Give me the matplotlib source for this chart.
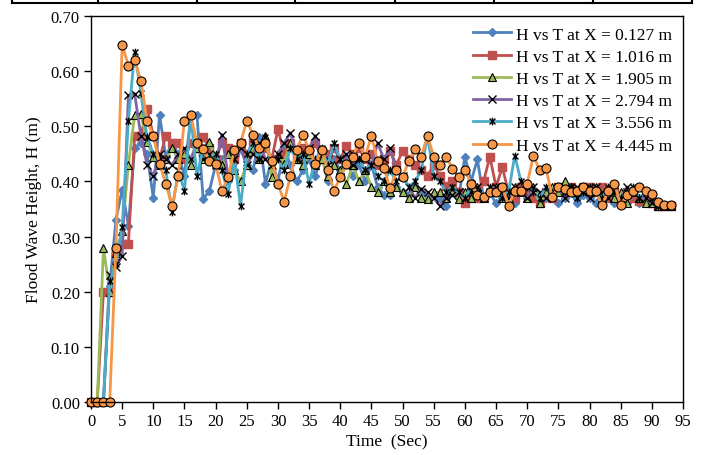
import numpy as np
import matplotlib
matplotlib.use('Agg')
import matplotlib.pyplot as plt
from matplotlib.path import Path
from matplotlib.lines import Line2D

plt.rcParams['font.family'] = ['Liberation Serif', 'DejaVu Serif']

# time (s) and flood wave height H (m) at each gauge
t = list(range(0, 94))

h_0127 = [0, 0, 0, 0.21, 0.33, 0.385, 0.32, 0.46, 0.47, 0.45,
          0.37, 0.52, 0.445, 0.47, 0.45, 0.41, 0.52, 0.52, 0.368, 0.383,
          0.43, 0.44, 0.40, 0.42, 0.46, 0.43, 0.42, 0.48, 0.396, 0.44,
          0.40, 0.46, 0.43, 0.40, 0.42, 0.44, 0.41, 0.45, 0.40, 0.44,
          0.42, 0.44, 0.41, 0.43, 0.40, 0.43, 0.39, 0.376, 0.376, 0.39,
          0.38, 0.375, 0.39, 0.38, 0.37, 0.375, 0.37, 0.356, 0.38, 0.37,
          0.445, 0.40, 0.44, 0.37, 0.38, 0.36, 0.37, 0.38, 0.36, 0.39,
          0.37, 0.38, 0.36, 0.37, 0.38, 0.36, 0.37, 0.38, 0.36, 0.375,
          0.37, 0.36, 0.38, 0.37, 0.36, 0.375, 0.36, 0.37, 0.36, 0.375,
          0.36, 0.356, 0.356, 0.356]

h_1016 = [0, 0, 0.20, 0.20, 0.27, 0.287, 0.287, 0.483, 0.483, 0.532,
          0.483, 0.44, 0.483, 0.47, 0.47, 0.44, 0.47, 0.46, 0.48, 0.46,
          0.44, 0.47, 0.46, 0.44, 0.47, 0.45, 0.47, 0.45, 0.46, 0.44,
          0.495, 0.45, 0.47, 0.44, 0.46, 0.45, 0.47, 0.44, 0.45, 0.46,
          0.44, 0.465, 0.45, 0.46, 0.44, 0.45, 0.43, 0.44, 0.455, 0.43,
          0.455, 0.44, 0.43, 0.42, 0.41, 0.43, 0.41, 0.392, 0.40, 0.38,
          0.36, 0.38, 0.37, 0.40, 0.445, 0.39, 0.426, 0.38, 0.37, 0.39,
          0.38, 0.37, 0.36, 0.38, 0.37, 0.39, 0.38, 0.39, 0.385, 0.39,
          0.39, 0.38, 0.39, 0.37, 0.38, 0.37, 0.38, 0.37, 0.365, 0.37,
          0.36, 0.356, 0.356, 0.356]

h_1905 = [0, 0, 0.28, 0.20, 0.27, 0.31, 0.43, 0.52, 0.523, 0.472,
          0.445, 0.43, 0.44, 0.46, 0.44, 0.45, 0.43, 0.46, 0.44, 0.472,
          0.44, 0.43, 0.45, 0.42, 0.40, 0.43, 0.46, 0.44, 0.483, 0.408,
          0.45, 0.432, 0.47, 0.44, 0.43, 0.45, 0.43, 0.44, 0.41, 0.43,
          0.42, 0.396, 0.43, 0.40, 0.42, 0.39, 0.38, 0.40, 0.38, 0.39,
          0.38, 0.37, 0.39, 0.37, 0.368, 0.38, 0.38, 0.37, 0.38, 0.368,
          0.38, 0.37, 0.39, 0.37, 0.38, 0.39, 0.37, 0.38, 0.39, 0.38,
          0.37, 0.39, 0.36, 0.38, 0.39, 0.38, 0.40, 0.39, 0.38, 0.39,
          0.38, 0.39, 0.37, 0.38, 0.37, 0.38, 0.36, 0.38, 0.37, 0.36,
          0.36, 0.356, 0.356, 0.356]

h_2794 = [0, 0, 0, 0.23, 0.245, 0.265, 0.556, 0.559, 0.483, 0.43,
          0.41, 0.45, 0.44, 0.43, 0.45, 0.46, 0.44, 0.47, 0.44, 0.45,
          0.43, 0.485, 0.41, 0.44, 0.46, 0.43, 0.45, 0.47, 0.44, 0.43,
          0.45, 0.47, 0.488, 0.45, 0.44, 0.46, 0.483, 0.45, 0.44, 0.46,
          0.44, 0.45, 0.43, 0.44, 0.45, 0.43, 0.47, 0.44, 0.46, 0.42,
          0.41, 0.39, 0.37, 0.387, 0.38, 0.37, 0.356, 0.37, 0.375, 0.38,
          0.37, 0.38, 0.39, 0.37, 0.38, 0.39, 0.38, 0.37, 0.39, 0.38,
          0.37, 0.39, 0.38, 0.37, 0.38, 0.39, 0.37, 0.38, 0.39, 0.38,
          0.37, 0.39, 0.38, 0.37, 0.38, 0.37, 0.39, 0.38, 0.37, 0.37,
          0.36, 0.356, 0.356, 0.356]

h_3556 = [0, 0, 0, 0.22, 0.25, 0.317, 0.51, 0.635, 0.56, 0.48,
          0.45, 0.44, 0.42, 0.345, 0.42, 0.383, 0.52, 0.41, 0.46, 0.44,
          0.45, 0.42, 0.378, 0.44, 0.356, 0.45, 0.47, 0.44, 0.48, 0.43,
          0.44, 0.42, 0.46, 0.44, 0.45, 0.396, 0.44, 0.46, 0.43, 0.47,
          0.44, 0.43, 0.45, 0.44, 0.42, 0.43, 0.41, 0.40, 0.42, 0.40,
          0.41, 0.39, 0.40, 0.42, 0.483, 0.41, 0.40, 0.38, 0.39, 0.38,
          0.37, 0.39, 0.38, 0.37, 0.39, 0.38, 0.37, 0.38, 0.447, 0.40,
          0.39, 0.38, 0.37, 0.39, 0.38, 0.39, 0.38, 0.39, 0.37, 0.38,
          0.39, 0.38, 0.37, 0.39, 0.38, 0.37, 0.38, 0.39, 0.37, 0.38,
          0.37, 0.356, 0.356, 0.356]

h_4445 = [0, 0, 0, 0, 0.28, 0.648, 0.61, 0.62, 0.583, 0.509,
          0.483, 0.432, 0.396, 0.356, 0.409, 0.51, 0.521, 0.47, 0.458, 0.437,
          0.432, 0.383, 0.408, 0.457, 0.47, 0.51, 0.485, 0.46, 0.47, 0.437,
          0.396, 0.363, 0.41, 0.457, 0.485, 0.457, 0.432, 0.457, 0.42, 0.383,
          0.408, 0.432, 0.445, 0.47, 0.445, 0.483, 0.437, 0.424, 0.388, 0.42,
          0.408, 0.437, 0.459, 0.445, 0.483, 0.445, 0.43, 0.445, 0.423, 0.408,
          0.42, 0.396, 0.376, 0.372, 0.38, 0.38, 0.39, 0.356, 0.383, 0.383,
          0.396, 0.447, 0.42, 0.425, 0.372, 0.39, 0.387, 0.38, 0.383, 0.39,
          0.383, 0.383, 0.357, 0.383, 0.396, 0.357, 0.376, 0.383, 0.39, 0.383,
          0.377, 0.363, 0.357, 0.357]

labels = ['H vs T at X = 0.127 m', 'H vs T at X = 1.016 m', 'H vs T at X = 1.905 m',
          'H vs T at X = 2.794 m', 'H vs T at X = 3.556 m', 'H vs T at X = 4.445 m']

# excel-style star: an x with a vertical bar
star = Path([(-1, -1), (1, 1), (-1, 1), (1, -1), (0, -1.3), (0, 1.3)],
            [Path.MOVETO, Path.LINETO, Path.MOVETO, Path.LINETO, Path.MOVETO, Path.LINETO])

styles = [
    dict(color='#4F81BD', marker='D', ms=4.5, mfc='#4F81BD', mec='#4F81BD'),
    dict(color='#C0504D', marker='s', ms=5.2, mfc='#C0504D', mec='#C0504D'),
    dict(color='#9BBB59', marker='^', ms=5.8, mfc='#9BBB59', mec='black', mew=0.8),
    dict(color='#8064A2', marker='x', ms=5.2, mec='black', mew=1.0),
    dict(color='#4BACC6', marker=star, ms=5.5, mfc='none', mec='black', mew=1.0),
    dict(color='#F79646', marker='o', ms=6.5, mfc='#F79646', mec='black', mew=0.8),
]

fig = plt.figure(figsize=(7.05, 4.56), dpi=100)
ax = fig.add_axes([91 / 705, 53 / 456, 592 / 705, 386 / 456])

for h, lab, st in zip([h_0127, h_1016, h_1905, h_2794, h_3556, h_4445], labels, styles):
    ax.plot(t, h, lw=2.0, label=lab, clip_on=False, **st)

ax.set_xlim(0, 95)
ax.set_ylim(0, 0.70)
ax.set_xticks(np.arange(0, 96, 5))
ax.set_yticks(np.arange(0, 0.71, 0.1))
ax.yaxis.set_major_formatter(matplotlib.ticker.FormatStrFormatter('%.2f'))
ax.tick_params(direction='out', length=5, width=1, labelsize=12, colors='black', pad=3)
for s in ax.spines.values():
    s.set_linewidth(1.0)
    s.set_color('black')

ax.set_xlabel('Time  (Sec)', fontsize=12.5, labelpad=3)
ax.set_ylabel('Flood Wave Height, H (m)', fontsize=12.5, labelpad=6)

leg = ax.legend(loc='upper right', bbox_to_anchor=(1.0, 1.0), frameon=False,
                fontsize=12.5, handlelength=2.2, handletextpad=0.3,
                labelspacing=0.35, borderaxespad=0.2)

# bottom edge of the table row above the chart
y0 = 1 - 3.5 / 456
fig.add_artist(Line2D([12 / 705, 692 / 705], [y0, y0], color='black', lw=1.5))
for xv in [12, 98, 197, 295, 395, 494, 593, 692]:
    fig.add_artist(Line2D([xv / 705, xv / 705], [y0, 1.0], color='black', lw=1.5))

fig.savefig('out.png', dpi=100)
